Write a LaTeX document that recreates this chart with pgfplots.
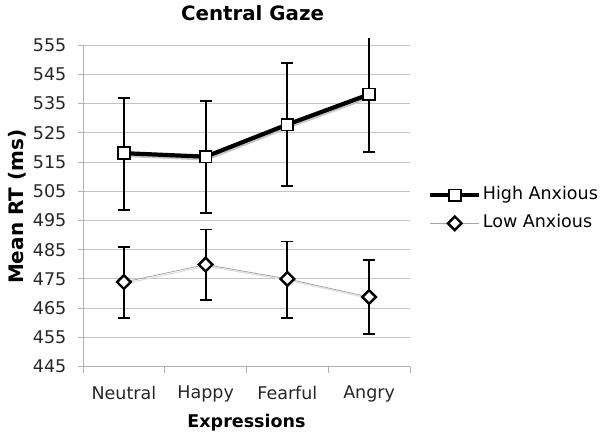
\documentclass[border=0pt]{standalone}
\usepackage{pgfplots}
\pgfplotsset{compat=1.18}
\usepackage{pgfplotstable}
\usepackage{fontspec}
\setmainfont{DejaVu Sans}
\definecolor{gridc}{HTML}{C4C4C4}
\definecolor{axc}{HTML}{B0B0B0}
\pgfplotstableread{
x y ep em
0 518.0 19.0 19.3
1 516.8 19.0 19.2
2 527.8 20.9 21.1
3 538.1 0.0 19.8
}\high
\pgfplotstableread{
x y ep em
0 473.9 12.0 12.3
1 479.9 12.0 12.2
2 475.0 12.8 13.3
3 468.8 12.7 12.7
}\low
\begin{document}
\begin{tikzpicture}
\begin{axis}[
  scale only axis, width=327pt, height=321.6pt,
  xmin=-0.5, xmax=3.5, ymin=445, ymax=555,
  clip=false,
  axis x line*=bottom, axis y line*=left,
  axis line style={axc, line width=0.8pt},
  xtick={0,1,2,3}, xticklabels={Neutral,Happy,Fearful,Angry},
  minor xtick={-0.5,0.5,1.5,2.5,3.5},
  major x tick style={draw=none},
  minor x tick style={axc, line width=0.8pt},
  minor tick length=6pt,
  ytick={445,455,...,555},
  y tick style={axc, line width=0.8pt},
  major tick length=5pt,
  tick align=outside,
  ymajorgrids, grid style={gridc, line width=0.8pt},
  font=\fontsize{17.5}{20}\selectfont,
  tick label style={font=\fontsize{17.5}{20}\selectfont, text=black!85},
  yticklabel style={inner sep=0pt, xshift=-11.5pt},
  xticklabel style={inner sep=0pt, yshift=-14pt},
  /pgf/number format/assume math mode=true,
  title={\bfseries Central Gaze},
  title style={at={(axis description cs:0.5,1)}, anchor=center, yshift=26pt, xshift=6pt, font=\fontsize{19.8}{23}\selectfont},
  xlabel={\bfseries Expressions},
  xlabel style={at={(axis description cs:0.5,0)}, anchor=center, yshift=-56pt, font=\fontsize{17.5}{20}\selectfont},
  ylabel={\bfseries Mean RT (ms)},
  ylabel style={at={(axis description cs:-0.2003,0.497)}, anchor=center, font=\fontsize{20}{23}\selectfont},
  legend style={at={(axis description cs:1,0.489)}, anchor=west, xshift=18pt, draw=none, fill=none, inner sep=0pt,
    font=\fontsize{17.5}{20}\selectfont, row sep=8pt,
    nodes={inner sep=1.5pt, text height=13pt, text depth=4pt}},
  legend cell align=left,
  legend image code/.code={\draw[mark repeat=2,mark phase=2,#1] plot coordinates {(0pt,0pt) (24.5pt,0pt) (49pt,0pt)};},
]
% shadows
\addplot[gray!45, line width=4.2pt, xshift=1.2pt, yshift=-1.8pt, forget plot] table[x=x,y=y] {\high};
\addplot[gray!25, line width=1.2pt, xshift=1pt, yshift=-1.5pt, forget plot] table[x=x,y=y] {\low};
% Angry upper error bar (runs past the top)
\addplot[black, line width=1.9pt, forget plot] coordinates {(3,538.1) (3,557.5)};
\addplot[black, line width=4.2pt, mark=square*, mark size=5.9pt,
  mark options={fill=white, draw=black, line width=1.8pt, solid},
  error bars/.cd, y dir=both, y explicit,
  error bar style={black, line width=1.9pt},
  error mark options={rotate=90, black, mark size=6pt, line width=1.9pt}]
  table[x=x, y=y, y error plus=ep, y error minus=em] {\high};
\addlegendentry{High Anxious}
\addplot[gray!70, line width=0.8pt, mark=square*, mark size=4.8pt,
  mark options={rotate=45, fill=white, draw=black, line width=2.4pt, solid},
  error bars/.cd, y dir=both, y explicit,
  error bar style={black, line width=1.9pt},
  error mark options={rotate=90, black, mark size=6pt, line width=1.9pt}]
  table[x=x, y=y, y error plus=ep, y error minus=em] {\low};
\addlegendentry{Low Anxious}
\end{axis}
\pgfresetboundingbox
\path[use as bounding box] (-83pt,-73pt) rectangle (517pt,366.6pt);
\end{tikzpicture}
\end{document}
